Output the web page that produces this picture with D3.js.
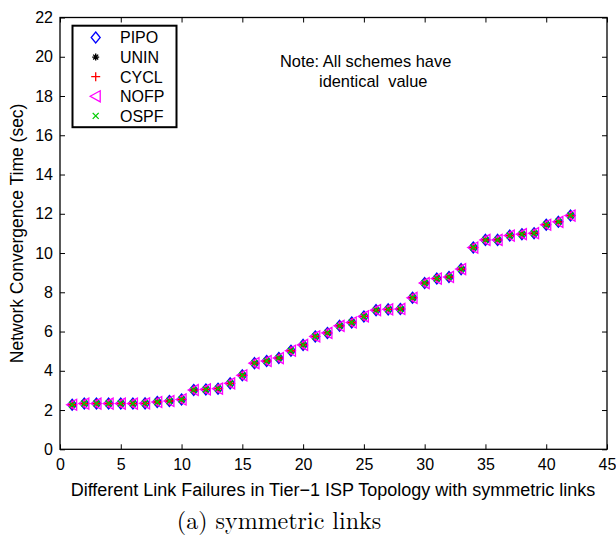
<!DOCTYPE html>
<html><head><meta charset="utf-8">
<script src="https://cdn.jsdelivr.net/npm/d3@7"></script>
<style>body{margin:0;background:#fff}svg{display:block}</style>
</head><body>
<svg id="c" width="616" height="540"></svg>
<script>
const failures = d3.range(1, 43);
const convTime = [2.27,2.33,2.33,2.33,2.33,2.33,2.34,2.41,2.46,2.54,
  3.02,3.05,3.09,3.36,3.77,4.39,4.50,4.65,5.02,5.32,
  5.75,5.93,6.29,6.46,6.77,7.09,7.13,7.15,7.72,8.47,
  8.70,8.78,9.18,10.28,10.67,10.67,10.89,10.96,11.01,11.44,11.59,11.91];
const schemes = ["PIPO","UNIN","CYCL","NOFP","OSPF"];
const colors = ["#0000ff","#000000","#ff0000","#ff00ff","#00cc00"];
const xTicks = d3.range(0, 46, 5);
const yTicks = d3.range(0, 23, 2);

const svg = d3.select("#c");
const L = 60, R = 607, T = 17.5, B = 449.3;
const x = d3.scaleLinear().domain([0,45]).range([L,R]);
const y = d3.scaleLinear().domain([0,22]).range([B,T]);
const font = "'Liberation Sans', Arial, Helvetica, sans-serif";

const g = svg.append("g").attr("font-family", font);
g.append("g").attr("transform",`translate(0,${B})`)
  .call(d3.axisBottom(x).tickValues(xTicks).tickSizeInner(-5).tickSizeOuter(0).tickPadding(9))
  .call(a=>{a.select(".domain").remove(); a.selectAll("text").attr("font-size",16).attr("font-family",font).attr("fill","#000");});
g.append("g").attr("transform",`translate(0,${T})`)
  .call(d3.axisTop(x).tickValues(xTicks).tickSizeInner(-5).tickSizeOuter(0).tickFormat(""))
  .call(a=>a.select(".domain").remove());
g.append("g").attr("transform",`translate(${L},0)`)
  .call(d3.axisLeft(y).tickValues(yTicks).tickSizeInner(-5).tickSizeOuter(0).tickPadding(7))
  .call(a=>{a.select(".domain").remove(); a.selectAll("text").attr("font-size",16).attr("font-family",font).attr("fill","#000");});
g.append("g").attr("transform",`translate(${R},0)`)
  .call(d3.axisRight(y).tickValues(yTicks).tickSizeInner(-5).tickSizeOuter(0).tickFormat(""))
  .call(a=>a.select(".domain").remove());
svg.selectAll(".tick line").attr("stroke","#000");
svg.append("rect").attr("x",L).attr("y",T).attr("width",R-L).attr("height",B-T)
  .attr("fill","none").attr("stroke","#000").attr("stroke-width",1.3);

function marker(sel, i, cx, cy){
  const c = colors[i];
  if(i===0){
    sel.append("path").attr("d",`M${cx},${cy-5.5}L${cx+4.5},${cy}L${cx},${cy+5.5}L${cx-4.5},${cy}Z`)
      .attr("fill","none").attr("stroke",c).attr("stroke-width",1.3);
  } else if(i===1){
    const r=3.5;
    let d="";
    for(let k=0;k<4;k++){const a=k*Math.PI/4;d+=`M${cx-r*Math.cos(a)},${cy-r*Math.sin(a)}L${cx+r*Math.cos(a)},${cy+r*Math.sin(a)}`;}
    sel.append("path").attr("d",d).attr("stroke",c).attr("stroke-width",1.4);
  } else if(i===2){
    sel.append("path").attr("d",`M${cx-4.5},${cy}L${cx+4.5},${cy}M${cx},${cy-4.5}L${cx},${cy+4.5}`)
      .attr("stroke",c).attr("stroke-width",1.3);
  } else if(i===3){
    sel.append("path").attr("d",`M${cx-5.5},${cy}L${cx+4.5},${cy-5.5}L${cx+4.5},${cy+5.5}Z`)
      .attr("fill","none").attr("stroke",c).attr("stroke-width",1.3);
  } else {
    const r=3;
    sel.append("path").attr("d",`M${cx-r},${cy-r}L${cx+r},${cy+r}M${cx-r},${cy+r}L${cx+r},${cy-r}`)
      .attr("stroke",c).attr("stroke-width",1.3);
  }
}

const pts = svg.append("g");
schemes.forEach((s,i)=>{
  const gs = pts.append("g").attr("class","series-"+s);
  failures.forEach((f,j)=>marker(gs, i, x(f), y(convTime[j])));
});

const lg = svg.append("g").attr("font-family",font);
lg.append("rect").attr("x",72.5).attr("y",25.7).attr("width",104).attr("height",101.5)
  .attr("fill","#fff").attr("stroke","#000").attr("stroke-width",2);
schemes.forEach((s,i)=>{
  const cy = 37.5 + i*19.6;
  marker(lg, i, 95.7, cy);
  lg.append("text").attr("x",120).attr("y",cy+5.8).attr("font-size",16).text(s);
});

svg.append("text").attr("x",280).attr("y",67).attr("font-family",font).attr("font-size",16.4).text("Note: All schemes have");
svg.append("text").attr("x",319).attr("y",87).attr("font-family",font).attr("font-size",16.4).attr("xml:space","preserve").style("white-space","pre").text("identical  value");

svg.append("text").attr("x",333).attr("y",496).attr("text-anchor","middle")
  .attr("font-family",font).attr("font-size",18).text("Different Link Failures in Tier\u22121 ISP Topology with symmetric links");
svg.append("text").attr("transform",`translate(23,${(T+B)/2}) rotate(-90)`).attr("text-anchor","middle")
  .attr("font-family",font).attr("font-size",17.5).text("Network Convergence Time (sec)");
svg.append("text").attr("x",279).attr("y",529).attr("text-anchor","middle")
  .attr("font-family","'Latin Modern Roman','CMU Serif','DejaVu Serif','Liberation Serif',serif").attr("font-size",24).text("(a) symmetric links");
</script>
</body></html>
